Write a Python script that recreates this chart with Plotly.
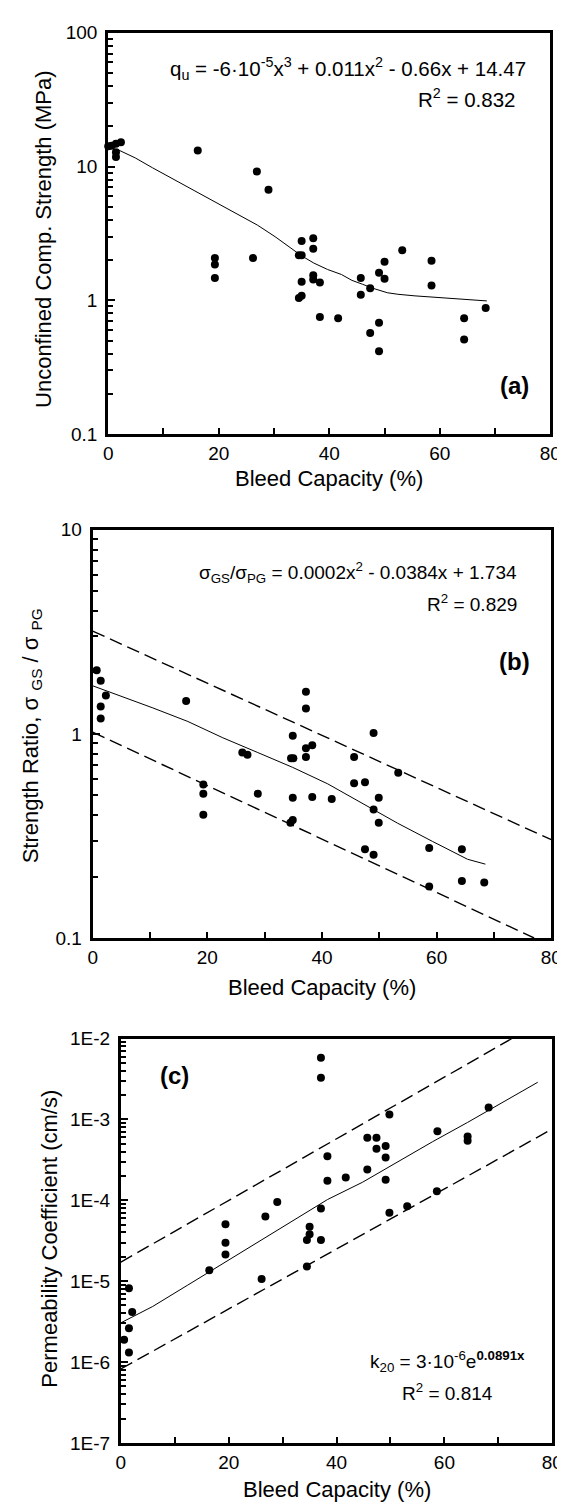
import plotly.graph_objects as go

W, H = 565, 1506

# ---------------- data ----------------
# Panel (a): unconfined compressive strength vs bleed capacity
a_x = [0.0, 0.6, 1.4, 2.3, 1.4, 1.4, 16.2, 26.9, 29.0, 19.3, 19.3, 19.3, 26.2, 35.0,
       34.5, 35.0, 37.1, 37.1, 37.1, 37.1, 35.0, 38.3, 34.5, 35.0, 38.3, 41.6, 45.7,
       45.7, 47.4, 49.0, 50.0, 50.0, 53.2, 58.5, 58.5, 47.4, 49.0, 49.0, 64.4, 64.4, 68.3]
a_y = [14.2, 14.3, 14.8, 15.2, 12.8, 11.8, 13.2, 9.2, 6.7, 2.07, 1.85, 1.47, 2.07, 2.78,
       2.17, 2.17, 2.91, 2.43, 1.54, 1.43, 1.38, 1.36, 1.04, 1.08, 0.75, 0.735, 1.47,
       1.10, 1.23, 1.61, 1.94, 1.45, 2.37, 1.98, 1.29, 0.57, 0.68, 0.417, 0.735, 0.51, 0.877]
fit_a_x = [1.7, 4.9, 8.0, 11.2, 14.4, 17.5, 20.7, 23.9, 27.0, 30.2, 33.4, 35.0, 37.2, 39.7,
           42.2, 44.1, 46.0, 47.9, 50.5, 52.4, 55.5, 58.7, 61.9, 65.0, 68.5]
fit_a_y = [13.4, 11.6, 9.8, 8.3, 7.0, 6.0, 5.1, 4.3, 3.65, 2.99, 2.38, 2.15, 1.90, 1.70,
           1.56, 1.41, 1.32, 1.23, 1.14, 1.11, 1.08, 1.06, 1.03, 1.01, 0.99]

# Panel (b): strength ratio vs bleed capacity
b_x = [-0.1, 0.7, 1.4, 2.3, 1.4, 1.4, 16.3, 37.2, 37.2, 34.9, 49.0, 37.2, 38.3, 37.2, 34.6,
       35.0, 26.1, 27.0, 45.6, 53.3, 45.6, 47.5, 19.3, 19.3, 19.3, 28.8, 34.9, 38.3, 41.7,
       49.9, 49.0, 49.9, 34.5, 34.9, 47.5, 49.0, 58.7, 64.4, 58.7, 64.4, 68.3]
b_y = [2.12, 2.05, 1.82, 1.54, 1.36, 1.19, 1.45, 1.61, 1.33, 0.98, 1.01, 0.85, 0.88, 0.77,
       0.76, 0.76, 0.81, 0.79, 0.77, 0.645, 0.573, 0.58, 0.565, 0.509, 0.402, 0.509, 0.487,
       0.49, 0.48, 0.487, 0.426, 0.367, 0.367, 0.379, 0.272, 0.256, 0.276, 0.272, 0.179,
       0.19, 0.187]
fit_b_x = [0, 4.4, 10.5, 16.6, 22.7, 28.8, 34.9, 41.0, 47.1, 53.2, 59.3, 65.4, 68.5]
fit_b_y = [1.72, 1.55, 1.34, 1.15, 0.957, 0.81, 0.685, 0.569, 0.456, 0.365, 0.297, 0.243, 0.23]
upper_b_x = [0, 80]
upper_b_y = [3.19, 0.303]
lower_b_x = [0, 77]
lower_b_y = [1.02, 0.1]

# Panel (c): permeability coefficient vs bleed capacity
c_x = [37.1, 37.1, 49.8, 58.7, 68.2, 64.3, 64.3, 45.7, 47.4, 49.1, 47.4, 38.3, 49.1, 38.3,
       41.7, 45.7, 49.1, 58.6, 53.1, 49.8, 29.0, 26.8, 37.1, 19.4, 19.4, 19.4, 16.4, 26.1,
       35.0, 35.0, 34.5, 37.1, 34.5, 1.5, 2.1, 1.5, 0.6, -0.2, 1.5]
c_y = [5.81e-3, 3.28e-3, 1.15e-3, 7.14e-4, 1.40e-3, 6.15e-4, 5.44e-4, 5.92e-4, 5.92e-4,
       4.69e-4, 4.35e-4, 3.51e-4, 3.37e-4, 1.74e-4, 1.92e-4, 2.41e-4, 1.79e-4, 1.29e-4,
       8.45e-5, 7.01e-5, 9.55e-5, 6.32e-5, 7.91e-5, 5.05e-5, 2.99e-5, 2.13e-5, 1.36e-5,
       1.06e-5, 4.69e-5, 3.81e-5, 3.22e-5, 3.22e-5, 1.52e-5, 8.15e-6, 4.15e-6, 2.62e-6,
       1.89e-6, 1.57e-6, 1.31e-6]
fit_c_x = [0, 5.9, 12.4, 18.9, 25.4, 31.9, 38.3, 44.8, 51.3, 57.8, 64.3, 70.8, 77.3]
fit_c_y = [3.05e-6, 4.86e-6, 8.93e-6, 1.64e-5, 3.02e-5, 5.55e-5, 1.02e-4, 1.67e-4,
           2.99e-4, 5.3e-4, 9.19e-4, 1.61e-3, 2.88e-3]
upper_c_x = [0, 72.5]
upper_c_y = [1.72e-5, 1.0e-2]
lower_c_x = [0, 80]
lower_c_y = [8.2e-7, 7.62e-4]

x_ticks = [0, 20, 40, 60, 80]
c_tickvals = [1e-7, 1e-6, 1e-5, 1e-4, 1e-3, 1e-2]
c_ticktext = ["1E-7", "1E-6", "1E-5", "1E-4", "1E-3", "1E-2"]

# ---------------- layout helpers ----------------
FONT = "Liberation Sans, Arial, Helvetica, sans-serif"
TICK = 19
TITLE = 22


def px_x(p):
    return p / W


def px_y(p):
    return 1 - p / H


panels = {
    1: dict(x0=98, x1=553, y0=15, y1=422),
    2: dict(x0=82, x1=554, y0=519, y1=933),
    3: dict(x0=111, x1=555, y0=1035, y1=1445),
}

fig = go.Figure()

marker = dict(color="black", size=8)
solid = dict(color="black", width=1)
dashed = dict(color="black", width=1.4, dash="13px,6px")


def add(x, y, k, **kw):
    fig.add_trace(go.Scatter(x=x, y=y, xaxis="x" if k == 1 else f"x{k}",
                             yaxis="y" if k == 1 else f"y{k}", showlegend=False,
                             hoverinfo="skip", **kw))


add(fit_a_x, fit_a_y, 1, mode="lines", line=solid)
add(a_x, a_y, 1, mode="markers", marker=marker, cliponaxis=False)

add(upper_b_x, upper_b_y, 2, mode="lines", line=dashed)
add(lower_b_x, lower_b_y, 2, mode="lines", line=dashed)
add(fit_b_x, fit_b_y, 2, mode="lines", line=solid)
add(b_x, b_y, 2, mode="markers", marker=marker, cliponaxis=False)

add(upper_c_x, upper_c_y, 3, mode="lines", line=dashed)
add(lower_c_x, lower_c_y, 3, mode="lines", line=dashed)
add(fit_c_x, fit_c_y, 3, mode="lines", line=solid)
add(c_x, c_y, 3, mode="markers", marker=marker, cliponaxis=False)

layout = dict(
    width=W, height=H, margin=dict(l=0, r=0, t=0, b=0),
    paper_bgcolor="white", plot_bgcolor="white",
    font=dict(family=FONT, color="black", size=TICK),
    showlegend=False,
)

for k, p in panels.items():
    xs = "xaxis" if k == 1 else f"xaxis{k}"
    ys = "yaxis" if k == 1 else f"yaxis{k}"
    xa = "x" if k == 1 else f"x{k}"
    ya = "y" if k == 1 else f"y{k}"
    layout[xs] = dict(
        domain=[px_x(p["x0"]), px_x(p["x1"])], anchor=ya, range=[0, 80],
        tickvals=x_ticks, ticks="inside", ticklen=6, tickwidth=2, tickcolor="black",
        minor=dict(dtick=10, tick0=0, ticks="inside", ticklen=6, tickwidth=2, tickcolor="black"),
        showline=True, linewidth=3, linecolor="black", mirror=True,
        showgrid=False, zeroline=False, tickfont=dict(size=TICK, family=FONT),
    )
    yd = dict(
        domain=[px_y(p["y1"]), px_y(p["y0"])], anchor=xa, type="log",
        ticks="inside", ticklen=7, tickwidth=2, tickcolor="black",
        minor=dict(dtick="D1", ticks="inside", ticklen=5, tickwidth=1.5, tickcolor="black"),
        showline=True, linewidth=3, linecolor="black", mirror=True,
        showgrid=False, zeroline=False, tickfont=dict(size=TICK, family=FONT),
        ticklabelstandoff=4,
    )
    if k == 1:
        yd.update(range=[-1, 2], tickvals=[0.1, 1, 10, 100], ticktext=["0.1", "1", "10", "100"])
    elif k == 2:
        yd.update(range=[-1, 1], tickvals=[0.1, 1, 10], ticktext=["0.1", "1", "10"])
    else:
        yd.update(range=[-7, -2], tickvals=c_tickvals, ticktext=c_ticktext)
    layout[ys] = yd

fig.update_layout(**layout)


def note(text, x, y, size=19, xanchor="center", yanchor="middle", angle=0):
    fig.add_annotation(text=text, x=px_x(x), y=px_y(y), xref="paper", yref="paper",
                       showarrow=False, xanchor=xanchor, yanchor=yanchor, textangle=angle,
                       font=dict(size=size, family=FONT, color="black"))


# axis titles
note("Bleed Capacity (%)", 325, 467, size=TITLE)
note("Bleed Capacity (%)", 318, 983, size=TITLE)
note("Bleed Capacity (%)", 333, 1492, size=TITLE)
note("Unconfined Comp. Strength (MPa)", 32, 224, size=TITLE, angle=-90)
note("Strength Ratio, σ <sub>GS</sub> / σ <sub>PG</sub>", 19, 728, size=TITLE, angle=-90)
note("Permeability Coefficient (cm/s)", 38, 1238, size=TITLE, angle=-90)

# equations
note("q<sub>u</sub> = -6·10<sup>-5</sup>x<sup>3</sup> + 0.011x<sup>2</sup> - 0.66x + 14.47",
     530, 51, size=20.5, xanchor="right")
note("R<sup>2</sup> = 0.832", 519, 81, size=20.5, xanchor="right")
note("σ<sub>GS</sub>/σ<sub>PG</sub> = 0.0002x<sup>2</sup> - 0.0384x + 1.734", 521, 562,
     xanchor="right")
note("R<sup>2</sup> = 0.829", 521, 593, xanchor="right")
note("k<sub>20</sub> = 3·10<sup>-6</sup>e<sup><b>0.0891x</b></sup>", 447, 1363)
note("R<sup>2</sup> = 0.814", 447, 1393)

# panel labels
note("<b>(a)</b>", 516, 373, size=24)
note("<b>(b)</b>", 516, 653, size=24)
note("<b>(c)</b>", 166, 1072, size=24)

fig.write_html("out.html")
